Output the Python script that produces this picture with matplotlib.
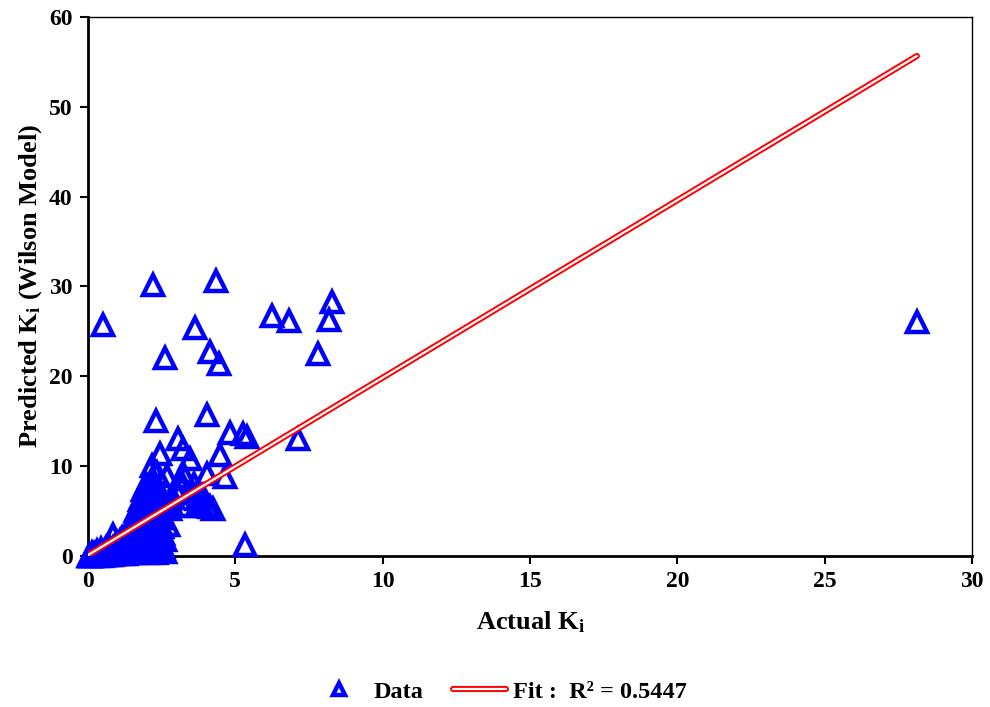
import numpy as np
from matplotlib import pyplot as plt
import matplotlib.patheffects as pe

# values (Actual K_i, Predicted K_i)
actual_k = [
    # mass near the origin
    0.02, 0.05, 0.08, 0.10, 0.12, 0.15, 0.18, 0.20, 0.22, 0.25, 0.28, 0.30,
    0.32, 0.35, 0.38, 0.40, 0.42, 0.45, 0.48, 0.50, 0.52, 0.55, 0.58, 0.60,
    0.62, 0.65, 0.68, 0.70, 0.72, 0.75, 0.78, 0.80, 0.82, 0.85, 0.88, 0.90,
    0.92, 0.95, 0.98, 1.00, 1.02, 1.05, 1.08, 1.10, 1.12, 1.15, 1.18, 1.20,
    1.22, 1.25, 1.28, 1.30, 1.32, 1.35, 1.38, 1.40, 1.42, 1.45, 1.48, 1.50,
    0.85, 0.30, 0.60, 1.00, 1.30, 0.15, 0.45, 0.70, 0.95, 1.15, 1.35, 1.55,
    1.70, 1.85, 2.00, 2.10, 2.30, 2.50, 2.60, 1.10, 1.25,
    # band between 1.5 and 2.8
    1.50, 1.55, 1.60, 1.60, 1.65, 1.70, 1.70, 1.75, 1.80, 1.80, 1.85, 1.90,
    1.90, 1.95, 2.00, 2.00, 2.00, 2.05, 2.10, 2.10, 2.15, 2.20, 2.20, 2.25,
    2.30, 2.30, 2.35, 2.40, 2.45, 2.50, 2.55, 2.60, 2.60, 2.70, 1.76, 1.87,
    1.65, 2.44, 2.55, 2.67, 2.78, 2.44, 2.20, 1.87,
    1.45, 1.55, 1.62, 1.72, 1.78, 1.83, 1.92, 1.98, 2.05, 2.12, 2.18, 2.25,
    2.32, 2.38, 2.45, 2.52, 1.68, 1.95, 2.08, 2.28, 2.40, 1.58, 1.88, 2.15,
    # upper part of the cluster
    2.16, 2.20, 2.67, 3.30, 3.00, 3.12, 3.69, 4.03, 4.25, 3.35, 3.80, 3.90,
    4.14, 3.69, 4.03, 4.65, 3.46, 2.44, 2.16, 3.22, 3.05, 4.48,
    2.90, 3.20, 3.50, 2.80, 2.35, 3.60,
    # scattered points
    2.31, 4.04, 4.82, 5.26, 5.40, 7.13, 5.33,
    0.51, 2.21, 4.34, 3.63, 2.61, 4.14, 4.45, 6.24, 6.82, 8.28, 8.18, 7.80,
    28.13,
]
pred_k = [
    0.01, 0.03, 0.05, 0.02, 0.10, 0.05, 0.12, 0.08, 0.20, 0.10, 0.15, 0.30,
    0.05, 0.20, 0.10, 0.35, 0.15, 0.25, 0.05, 0.40, 0.20, 0.10, 0.50, 0.30,
    0.15, 0.60, 0.25, 0.10, 0.45, 0.70, 0.30, 0.15, 0.55, 0.90, 0.35, 0.20,
    0.70, 1.00, 0.40, 0.20, 0.80, 1.20, 0.50, 0.30, 1.00, 1.50, 0.60, 0.25,
    1.30, 0.80, 0.40, 1.80, 1.10, 0.50, 2.00, 0.90, 0.30, 1.50, 2.50, 0.60,
    2.30, 0.60, 0.90, 1.40, 0.20, 0.30, 0.80, 1.10, 1.30, 2.00, 2.60, 0.30,
    0.40, 0.50, 0.30, 0.40, 0.30, 0.50, 0.40, 1.70, 2.20,
    3.00, 1.20, 4.00, 2.20, 0.80, 4.80, 3.20, 1.80, 5.50, 0.90, 2.80, 6.00,
    4.20, 1.50, 7.00, 3.50, 0.60, 5.00, 2.20, 6.50, 4.00, 1.20, 7.50, 3.00,
    5.50, 0.80, 2.00, 4.50, 1.50, 3.20, 2.50, 1.80, 6.00, 3.50, 5.20, 6.70,
    5.20, 2.20, 1.00, 5.60, 5.20, 5.60, 7.80, 6.20,
    3.60, 2.40, 5.00, 4.00, 6.20, 3.00, 5.00, 8.00, 6.00, 4.80, 3.80, 6.80,
    4.00, 6.80, 2.80, 4.20, 2.80, 3.60, 7.20, 6.80, 1.00, 2.00, 7.40, 5.60,
    # upper part
    8.60, 8.60, 8.90, 8.80, 7.30, 8.60, 6.30, 5.60, 5.20, 5.60, 6.00, 6.70,
    5.50, 5.60, 9.10, 8.80, 10.8, 11.3, 10.0, 11.9, 13.0, 11.2,
    6.50, 7.60, 7.00, 5.80, 9.20, 8.00,
    15.0, 15.7, 13.7, 13.6, 13.3, 13.0, 1.20,
    25.7, 30.2, 30.6, 25.4, 22.0, 22.7, 21.4, 26.7, 26.2, 28.3, 26.3, 22.5,
    26.1,
]

# regression line of the chart
fit_slope = 1.975
fit_intercept = 0.10
fit_label = 'Fit :  R\u00b2 = 0.5447'

x_ticks = [0, 5, 10, 15, 20, 25, 30]
y_ticks = [0, 10, 20, 30, 40, 50, 60]

plt.rcParams['font.family'] = ['Liberation Serif', 'DejaVu Serif']
plt.rcParams['font.weight'] = 'bold'
plt.rcParams['mathtext.default'] = 'regular'

fig = plt.figure(figsize=(9.9, 7.07), dpi=100)
ax = fig.add_axes([0.0889, 0.2136, 0.8929, 0.7624])

ax.plot(actual_k, pred_k, linestyle='none', marker='^', markersize=14.5,
        markerfacecolor='none', markeredgecolor='#0000ff',
        markeredgewidth=3.2, label='Data', clip_on=False, zorder=3)

fx = np.array([0.0, max(actual_k)])
ax.plot(fx, fit_slope * fx + fit_intercept, color='white', linewidth=1.6,
        solid_capstyle='round', label=fit_label, zorder=4,
        path_effects=[pe.Stroke(linewidth=4.4, foreground='#ff0000'), pe.Normal()])

ax.set_xlim(0, 30)
ax.set_ylim(0, 60)
ax.set_xticks(x_ticks)
ax.set_yticks(y_ticks)
ax.tick_params(direction='out', length=6, width=1.5, labelsize=17, pad=5,
               top=False, right=False)
for lab in ax.get_xticklabels() + ax.get_yticklabels():
    lab.set_fontweight('bold')
for side in ['left', 'bottom']:
    ax.spines[side].set_linewidth(2)
for side in ['top', 'right']:
    ax.spines[side].set_linewidth(1)

ax.set_xlabel('Actual K$_\\mathregular{i}$', fontsize=19, fontweight='bold', labelpad=12)
ax.set_ylabel('Predicted K$_\\mathregular{i}$ (Wilson Model)', fontsize=19,
              fontweight='bold', labelpad=4)

fig.legend(loc='lower center', bbox_to_anchor=(0.505, -0.025), ncol=2, frameon=False,
           fontsize=17.5, handlelength=2.2, columnspacing=1.2, handletextpad=0.3,
           markerscale=0.6)

plt.savefig('out.png', dpi=100)
